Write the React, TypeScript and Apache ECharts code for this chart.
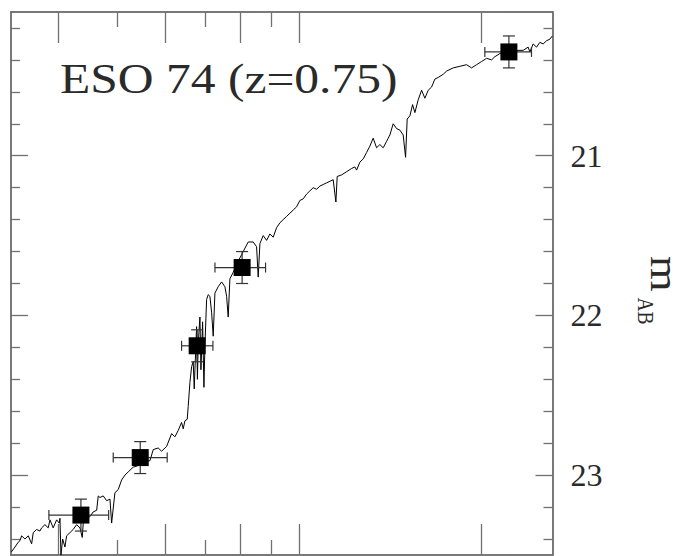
import React, { useEffect, useRef } from 'react';
import * as echarts from 'echarts';

// Spectrum: observed wavelength (Angstrom) and AB magnitude
const WAVELENGTH = [
  3350, 3395, 3437, 3460, 3482, 3526, 3571, 3617, 3639, 3686, 3733, 3757, 3804, 3852, 3878, 3926,
  3977, 4017, 4028, 4043, 4069, 4105, 4131, 4184, 4236, 4291, 4346, 4384, 4401, 4458, 4514, 4571,
  4631, 4659, 4689, 4748, 4810, 4871, 4902, 4964, 5027, 5092, 5156, 5221, 5321, 5424, 5521, 5670,
  5742, 5852, 5928, 6042, 6158, 6235, 6314, 6396, 6435, 6477, 6534, 6558, 6601, 6644, 6684, 6710,
  6728, 6771, 6792, 6812, 6857, 6883, 6927, 6962, 6988, 7033, 7076, 7122, 7168, 7212, 7259, 7350,
  7446, 7540, 7589, 7635, 7685, 7782, 7931, 8083, 8238, 8396, 8505, 8557, 8613, 8721, 8835, 8946,
  9059, 9177, 9293, 9410, 9532, 9653, 9775, 9902, 10027, 10153, 10285, 10415, 10546, 10684, 10818, 10955,
  11097, 11237, 11379, 11497, 11554, 11748, 11974, 12203, 12358, 12438, 12595, 12754, 12919, 13082, 13247, 13420,
  13589, 13761, 13940, 14116, 14294, 14480, 14663, 14848, 14984, 15075, 15231, 15388, 15523, 15719, 15923, 16124,
  16328, 16540, 16749, 16960, 17286, 17511, 17955, 18418, 18893, 19255, 19625, 20001, 20385, 20776, 21038, 21442,
  22188, 22986, 23427, 23876, 24031, 24334, 24650, 24961, 25276, 25605, 25928, 26176,
];
const MAG = [
  23.48, 23.45, 23.42, 23.41, 23.38, 23.40, 23.38, 23.43, 23.36, 23.34, 23.35, 23.33, 23.31, 23.33, 23.28, 23.33,
  23.28, 23.30, 23.27, 23.50, 23.40, 23.45, 23.38, 23.36, 23.34, 23.31, 23.33, 23.39, 23.30, 23.27, 23.26, 23.23,
  23.22, 23.13, 23.14, 23.13, 23.16, 23.15, 23.30, 23.11, 23.09, 23.03, 23.00, 22.98, 22.95, 22.94, 22.91, 22.91,
  22.84, 22.83, 22.85, 22.82, 22.74, 22.76, 22.72, 22.67, 22.71, 22.66, 22.65, 22.57, 22.42, 22.32, 22.29, 22.46,
  22.34, 22.07, 22.40, 22.18, 22.01, 22.34, 22.04, 22.45, 22.19, 21.90, 21.87, 21.88, 21.98, 22.13, 21.86, 21.82,
  21.79, 21.82, 21.88, 22.01, 21.77, 21.73, 21.66, 21.60, 21.54, 21.54, 21.57, 21.76, 21.55, 21.50, 21.53, 21.49,
  21.51, 21.45, 21.42, 21.40, 21.38, 21.36, 21.34, 21.32, 21.28, 21.27, 21.24, 21.22, 21.20, 21.21, 21.19, 21.18,
  21.17, 21.16, 21.15, 21.29, 21.13, 21.12, 21.10, 21.08, 21.07, 21.09, 21.04, 21.02, 20.98, 20.94, 20.89, 20.95,
  20.93, 20.95, 20.91, 20.87, 20.80, 20.83, 20.84, 20.87, 21.01, 20.77, 20.75, 20.68, 20.73, 20.65, 20.59, 20.64,
  20.59, 20.57, 20.52, 20.51, 20.49, 20.47, 20.45, 20.44, 20.43, 20.45, 20.43, 20.41, 20.39, 20.40, 20.38, 20.36,
  20.35, 20.34, 20.34, 20.32, 20.35, 20.30, 20.32, 20.29, 20.30, 20.28, 20.27, 20.25,
];

// Broad-band photometry (B, V, R, I, K)
const BANDS = ['B', 'V', 'R', 'I', 'K'];
const PHOT_LAMBDA = [4362, 5465, 6785, 8050, 22190];
const PHOT_LAMBDA_LO = [3862, 4932, 6395, 7260, 20250];
const PHOT_LAMBDA_HI = [4847, 6055, 7204, 8800, 24180];
const PHOT_MAG = [23.25, 22.89, 22.19, 21.7, 20.35];
const PHOT_ERR = [0.1, 0.1, 0.1, 0.1, 0.1];

// Axes
const X_MIN = 3344;
const X_MAX = 26190;
const Y_MIN = 20.1;
const Y_MAX = 23.5;
const X_TICKS_LONG = [4000, 6000, 8000, 10000, 20000];
const X_TICKS_SHORT = [5000, 7000, 9000];
const Y_TICKS_MAJOR = [21, 22, 23];
const Y_TICKS_MINOR = [20.2, 20.4, 20.6, 20.8, 21.2, 21.4, 21.6, 21.8, 22.2, 22.4, 22.6, 22.8, 23.2, 23.4];
const TITLE = 'ESO 74 (z=0.75)';
const Y_NAME = 'm';
const Y_NAME_SUB = 'AB';

const AXIS_COLOR = '#707070';
const SERIF = 'Liberation Serif';

function xAxis(position: string, ticks: number[], len: number) {
  return {
    type: 'log',
    logBase: 10,
    min: X_MIN,
    max: X_MAX,
    position,
    axisLine: { show: true, onZero: false, lineStyle: { color: AXIS_COLOR, width: 1.5 } },
    axisTick: { show: true, inside: true, length: len, customValues: ticks, lineStyle: { color: AXIS_COLOR, width: 1.3 } },
    axisLabel: { show: false },
    splitLine: { show: false },
    minorTick: { show: false },
  };
}

function yAxis(position: string, ticks: number[], len: number, labels: boolean) {
  return {
    type: 'value',
    inverse: true,
    min: Y_MIN,
    max: Y_MAX,
    position,
    axisLine: { show: true, onZero: false, lineStyle: { color: AXIS_COLOR, width: 1.5 } },
    axisTick: { show: true, inside: true, length: len, customValues: ticks, lineStyle: { color: AXIS_COLOR, width: 1.3 } },
    axisLabel: labels
      ? {
          show: true,
          customValues: Y_TICKS_MAJOR,
          margin: 18,
          fontFamily: SERIF,
          fontSize: 32,
          color: '#2a2a2a',
          formatter: (v: number) => String(v),
        }
      : { show: false },
    splitLine: { show: false },
  };
}

export default function App() {
  const ref = useRef<HTMLDivElement>(null);
  useEffect(() => {
    if (!ref.current) return;
    const chart = echarts.init(ref.current, undefined, { renderer: 'svg' });
    const spectrum = WAVELENGTH.map((w, i) => [w, MAG[i]]);
    const phot = PHOT_LAMBDA.map((w, i) => [w, PHOT_MAG[i], PHOT_LAMBDA_LO[i], PHOT_LAMBDA_HI[i], PHOT_ERR[i], BANDS[i]]);
    chart.setOption({
      animation: false,
      backgroundColor: '#fff',
      grid: { left: 11, top: 12, right: 124.5, bottom: 1, containLabel: false },
      xAxis: [
        xAxis('bottom', X_TICKS_LONG, 31),
        xAxis('bottom', X_TICKS_SHORT, 15),
        xAxis('top', X_TICKS_LONG, 31),
        xAxis('top', X_TICKS_SHORT, 15),
      ],
      yAxis: [
        yAxis('left', Y_TICKS_MINOR, 9, false),
        yAxis('left', Y_TICKS_MAJOR, 17, false),
        yAxis('right', Y_TICKS_MINOR, 9, false),
        yAxis('right', Y_TICKS_MAJOR, 17, true),
      ],
      series: [
        {
          type: 'line',
          xAxisIndex: 0,
          yAxisIndex: 0,
          data: spectrum,
          showSymbol: false,
          symbol: 'none',
          lineStyle: { color: '#000', width: 1 },
          z: 2,
        },
        {
          type: 'custom',
          xAxisIndex: 0,
          yAxisIndex: 0,
          data: phot,
          encode: { x: 0, y: 1 },
          z: 3,
          renderItem: (_params: any, api: any) => {
            const w = api.value(0);
            const m = api.value(1);
            const lo = api.value(2);
            const hi = api.value(3);
            const e = api.value(4);
            const c = api.coord([w, m]);
            const l = api.coord([lo, m]);
            const h = api.coord([hi, m]);
            const t = api.coord([w, m - e]);
            const b = api.coord([w, m + e]);
            const cap = 5;
            const style = { stroke: '#333', lineWidth: 1.2, fill: null };
            return {
              type: 'group',
              children: [
                { type: 'line', shape: { x1: l[0], y1: c[1], x2: h[0], y2: c[1] }, style },
                { type: 'line', shape: { x1: l[0], y1: c[1] - cap, x2: l[0], y2: c[1] + cap }, style },
                { type: 'line', shape: { x1: h[0], y1: c[1] - cap, x2: h[0], y2: c[1] + cap }, style },
                { type: 'line', shape: { x1: c[0], y1: t[1], x2: c[0], y2: b[1] }, style },
                { type: 'line', shape: { x1: c[0] - cap - 1, y1: t[1], x2: c[0] + cap + 1, y2: t[1] }, style },
                { type: 'line', shape: { x1: c[0] - cap - 1, y1: b[1], x2: c[0] + cap + 1, y2: b[1] }, style },
              ],
            };
          },
        },
        {
          type: 'scatter',
          xAxisIndex: 0,
          yAxisIndex: 0,
          data: phot.map((p) => [p[0], p[1]]),
          symbol: 'rect',
          symbolSize: 17,
          itemStyle: { color: '#000', opacity: 1 },
          z: 4,
        },
      ],
      graphic: [
        {
          type: 'text',
          x: 60,
          y: 79,
          scaleX: 1.18,
          style: {
            text: TITLE,
            fontFamily: SERIF,
            fontSize: 42,
            fill: '#2a2a2a',
            textAlign: 'left',
            textVerticalAlign: 'middle',
          },
        },
        {
          type: 'text',
          x: 664,
          y: 274,
          rotation: -Math.PI / 2,
          scaleX: 1.15,
          style: {
            text: Y_NAME,
            fontFamily: SERIF,
            fontSize: 40,
            fill: '#2a2a2a',
            textAlign: 'center',
            textVerticalAlign: 'middle',
          },
        },
        {
          type: 'text',
          x: 646,
          y: 311,
          rotation: -Math.PI / 2,
          scaleX: 0.85,
          style: {
            text: Y_NAME_SUB,
            fontFamily: SERIF,
            fontSize: 23,
            fill: '#2a2a2a',
            textAlign: 'center',
            textVerticalAlign: 'middle',
          },
        },
      ],
    });
    return () => chart.dispose();
  }, []);
  return (
    <div
      ref={ref}
      style={{ position: 'absolute', left: 0, top: 0, width: 677, height: 556, background: '#fff' }}
    />
  );
}
